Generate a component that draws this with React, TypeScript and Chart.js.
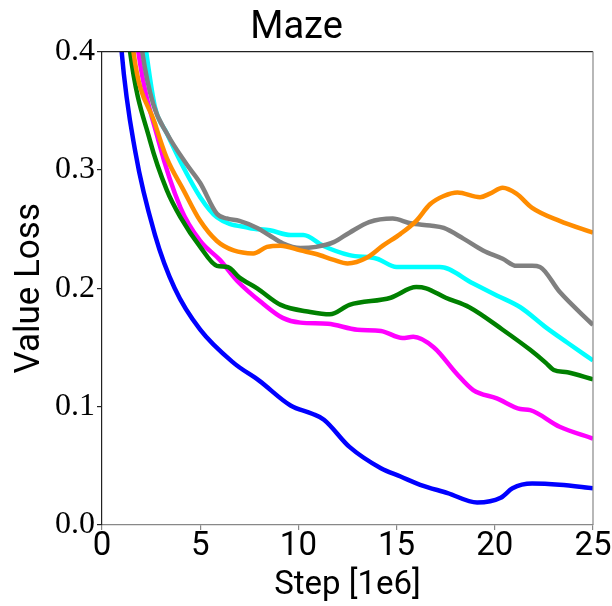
import React, { useEffect, useRef } from "react";
import { Chart, registerables } from "chart.js";

Chart.register(...registerables);

const chartTitle = "Maze";
const xTitle = "Step [1e6]";
const yTitle = "Value Loss";

const blueSteps = [0, 0.5, 1.0, 1.7, 2.7, 3.7, 5.0, 6.7, 8.0, 9.6, 10.7, 11.3, 12.6, 14.2, 15.2, 16.2, 17.6, 19.1, 20.3, 20.9, 21.9, 23.3, 25];
const blueLoss = [0.75, 0.53, 0.40, 0.315, 0.245, 0.20, 0.165, 0.137, 0.122, 0.101, 0.094, 0.089, 0.066, 0.048, 0.041, 0.034, 0.027, 0.019, 0.023, 0.031, 0.035, 0.034, 0.031];

const greenSteps = [0, 0.7, 1.43, 2.44, 3.3, 4.0, 5.0, 5.85, 6.4, 7.0, 7.9, 9.1, 10.6, 11.6, 12.6, 14.7, 16.0, 16.5, 17.5, 18.7, 20.4, 21.8, 22.6, 23.0, 23.7, 25];
const greenLoss = [0.75, 0.53, 0.40, 0.325, 0.283, 0.26, 0.235, 0.219, 0.218, 0.209, 0.2, 0.186, 0.18, 0.178, 0.186, 0.192, 0.201, 0.2, 0.192, 0.184, 0.165, 0.148, 0.137, 0.131, 0.129, 0.123];

const magentaSteps = [0, 0.9, 1.85, 2.87, 4.0, 5.0, 6.0, 6.9, 8.2, 9.2, 10.1, 11.5, 13.0, 14.2, 15.3, 15.85, 16.9, 18.05, 18.9, 20.1, 21.3, 21.8, 23.3, 25];
const magentaLoss = [0.8, 0.55, 0.40, 0.325, 0.268, 0.24, 0.224, 0.206, 0.187, 0.175, 0.171, 0.17, 0.165, 0.164, 0.158, 0.159, 0.15, 0.128, 0.114, 0.107, 0.098, 0.097, 0.083, 0.073];

const orangeSteps = [0, 0.8, 1.6, 2.7, 3.3, 4.15, 5.0, 5.85, 6.7, 7.7, 8.4, 9.1, 10.1, 10.9, 11.8, 12.5, 13.5, 14.3, 15.2, 16.0, 16.7, 17.4, 18.1, 19.25, 19.75, 20.4, 21.1, 21.9, 23.3, 25];
const orangeLoss = [0.8, 0.55, 0.40, 0.339, 0.31, 0.283, 0.257, 0.24, 0.232, 0.2295, 0.235, 0.236, 0.232, 0.229, 0.224, 0.221, 0.226, 0.236, 0.246, 0.257, 0.271, 0.278, 0.281, 0.277, 0.28, 0.285, 0.28, 0.268, 0.257, 0.247];

const graySteps = [0, 1.0, 2.05, 2.6, 3.3, 4.3, 5.0, 5.85, 6.35, 7.0, 7.9, 8.5, 9.2, 10.1, 10.9, 11.8, 12.6, 13.6, 14.8, 15.7, 16.7, 17.4, 18.4, 19.4, 20.4, 21.1, 21.9, 22.3, 23.3, 25];
const grayLoss = [0.8, 0.55, 0.40, 0.356, 0.331, 0.305, 0.289, 0.263, 0.259, 0.257, 0.251, 0.245, 0.238, 0.234, 0.235, 0.239, 0.247, 0.256, 0.259, 0.255, 0.253, 0.251, 0.242, 0.232, 0.225, 0.219, 0.219, 0.218, 0.197, 0.169];

const cyanSteps = [0, 1.1, 2.25, 2.7, 3.3, 4.15, 5.0, 5.85, 7.5, 8.55, 9.6, 10.25, 11.25, 12.6, 14.0, 15.0, 16.3, 17.2, 18.9, 20.1, 21.3, 22.6, 23.7, 25];
const cyanLoss = [0.8, 0.55, 0.40, 0.353, 0.331, 0.302, 0.277, 0.26, 0.251, 0.249, 0.245, 0.245, 0.236, 0.228, 0.225, 0.218, 0.218, 0.218, 0.204, 0.194, 0.184, 0.167, 0.154, 0.139];

const xTicks = [0, 5, 10, 15, 20, 25];
const yTicks = [0.0, 0.1, 0.2, 0.3, 0.4];

const zip = (xs: number[], ys: number[]) => xs.map((x, i) => ({ x, y: ys[i] }));

const frame = {
  id: "frame",
  afterDatasetsDraw(chart: any) {
    const { ctx, chartArea } = chart;
    ctx.save();
    ctx.lineWidth = 1.2;
    ctx.strokeStyle = "#222";
    ctx.beginPath();
    ctx.moveTo(chartArea.left, chartArea.top);
    ctx.lineTo(chartArea.right, chartArea.top);
    ctx.stroke();
    ctx.strokeStyle = "#888";
    ctx.beginPath();
    ctx.moveTo(chartArea.right, chartArea.top);
    ctx.lineTo(chartArea.right, chartArea.bottom);
    ctx.stroke();
    ctx.restore();
  },
};

export default function App() {
  const ref = useRef<HTMLCanvasElement>(null);
  useEffect(() => {
    document.body.style.margin = "0";
    const mk = (label: string, xs: number[], ys: number[], color: string) => ({
      label,
      data: zip(xs, ys),
      borderColor: color,
      backgroundColor: color,
      borderWidth: 4.5,
      pointRadius: 0,
      cubicInterpolationMode: "monotone" as const,
      clip: 0,
      fill: false,
    });
    const chart = new Chart(ref.current!, {
      type: "line",
      data: {
        datasets: [
          mk("orange", orangeSteps, orangeLoss, "#ff8c00"),
          mk("gray", graySteps, grayLoss, "#808080"),
          mk("cyan", cyanSteps, cyanLoss, "#00ffff"),
          mk("green", greenSteps, greenLoss, "#008000"),
          mk("magenta", magentaSteps, magentaLoss, "#ff00ff"),
          mk("blue", blueSteps, blueLoss, "#0000ff"),
        ],
      },
      options: {
        animation: false,
        responsive: false,
        layout: { padding: { left: 0, right: 19, top: 0, bottom: 0 } },
        plugins: {
          legend: { display: false },
          tooltip: { enabled: false },
          title: {
            display: true,
            text: chartTitle,
            color: "#000",
            font: { family: "Roboto", size: 38, weight: "normal", lineHeight: 1.2 },
            padding: { top: 6, bottom: 0 },
          },
        },
        scales: {
          x: {
            type: "linear",
            min: 0,
            max: 25,
            afterBuildTicks: (s: any) => {
              s.ticks = xTicks.map((v) => ({ value: v }));
            },
            afterFit: (s: any) => {
              s.height = 81;
            },
            ticks: {
              color: "#000",
              font: { family: "Roboto", size: 33, lineHeight: 1 },
              padding: 0,
              maxRotation: 0,
              autoSkip: false,
            },
            grid: { drawOnChartArea: false, drawTicks: true, tickLength: 5, color: "#888", lineWidth: 1.2 },
            border: { display: true, color: "#888", width: 1.2 },
            title: {
              display: true,
              text: xTitle,
              color: "#000",
              font: { family: "Roboto", size: 33, lineHeight: 1.2 },
              padding: { top: 0, bottom: 0 },
            },
          },
          y: {
            type: "linear",
            min: 0,
            max: 0.4,
            afterBuildTicks: (s: any) => {
              s.ticks = yTicks.map((v) => ({ value: v }));
            },
            afterFit: (s: any) => {
              s.width = 102;
            },
            ticks: {
              color: "#000",
              font: { family: "Liberation Serif", size: 32, lineHeight: 1 },
              padding: 2,
              callback: (v: any) => Number(v).toFixed(1),
              autoSkip: false,
            },
            grid: { drawOnChartArea: false, drawTicks: true, tickLength: 5, color: "#222", lineWidth: 1.2 },
            border: { display: true, color: "#222", width: 1.2 },
            title: {
              display: true,
              text: yTitle,
              color: "#000",
              font: { family: "Roboto", size: 35, lineHeight: 1.2 },
              padding: { top: 9, bottom: 0 },
            },
          },
        },
      },
      plugins: [frame],
    });
    return () => chart.destroy();
  }, []);
  return <canvas ref={ref} width={612} height={606} style={{ display: "block" }} />;
}
